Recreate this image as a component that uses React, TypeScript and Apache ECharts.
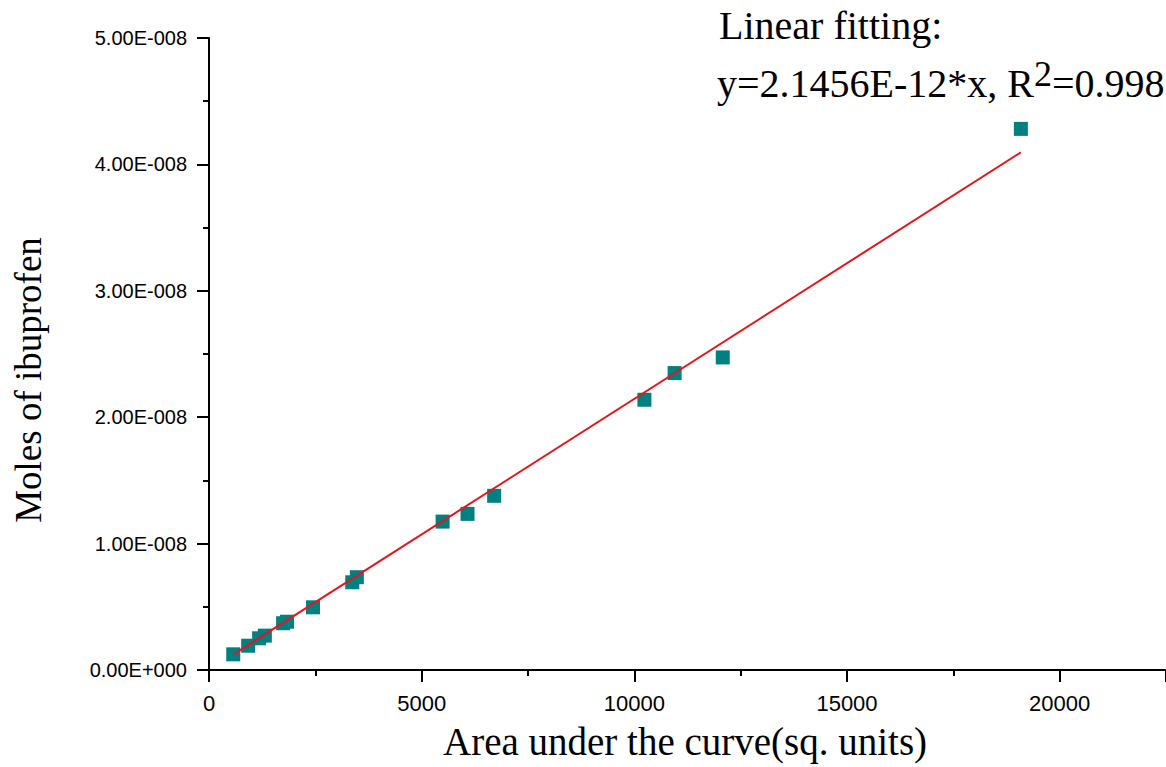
import React, { useEffect, useRef } from "react";
import * as echarts from "echarts";

const areaValues = [570, 921, 1179, 1313, 1742, 1835, 2445, 3368, 3476, 5492, 6078, 6704, 10237, 10947, 12079, 19088];
const moleValues = [1.24e-9, 1.92e-9, 2.51e-9, 2.72e-9, 3.7e-9, 3.82e-9, 4.96e-9, 6.94e-9, 7.34e-9, 1.174e-8, 1.235e-8, 1.378e-8, 2.138e-8, 2.349e-8, 2.473e-8, 4.281e-8];
const fitSlope = 2.1456e-12;
const xTitle = "Area under the curve(sq. units)";
const yTitle = "Moles of ibuprofen";
const fitTitle = "Linear fitting:";

const SERIF = '"Liberation Serif", "Times New Roman", serif';
const SANS = '"Liberation Sans", Arial, sans-serif';

function sciLabel(v: number): string {
  const [m, e] = v.toExponential(2).split("e");
  const n = parseInt(e, 10);
  return m + "E" + (n < 0 ? "-" : "+") + String(Math.abs(n)).padStart(3, "0");
}

export default function App() {
  const ref = useRef<HTMLDivElement>(null);
  useEffect(() => {
    if (!ref.current) return;
    const chart = echarts.init(ref.current, undefined, { renderer: "svg" });
    const points = areaValues.map((x, i) => [x, moleValues[i]]);
    const xMin = Math.min(...areaValues);
    const xMax = Math.max(...areaValues);
    const fitLine = [
      [xMin, fitSlope * xMin],
      [xMax, fitSlope * xMax],
    ];
    const axisCommon = {
      axisLine: { show: true, onZero: false, lineStyle: { color: "#000", width: 2 } },
      axisTick: { show: true, inside: false, length: 12, lineStyle: { color: "#000", width: 2 } },
      minorTick: { show: true, splitNumber: 2, length: 6, lineStyle: { color: "#000", width: 2 } },
      splitLine: { show: false },
      minorSplitLine: { show: false },
    };
    chart.setOption({
      animation: false,
      backgroundColor: "#fff",
      grid: { left: 209, top: 38, width: 960, height: 632 },
      xAxis: {
        type: "value",
        min: 0,
        max: 22500,
        interval: 5000,
        ...axisCommon,
        axisLabel: { show: true, showMaxLabel: false, margin: 22, fontSize: 22, color: "#000", fontFamily: SANS, formatter: (v: number) => String(v) },
      },
      yAxis: {
        type: "value",
        min: 0,
        max: 5e-8,
        interval: 1e-8,
        ...axisCommon,
        axisLabel: { show: true, margin: 22, fontSize: 20, color: "#000", fontFamily: SANS, formatter: (v: number) => sciLabel(v) },
      },
      series: [
        {
          type: "scatter",
          data: points,
          symbol: "rect",
          symbolSize: 14,
          itemStyle: { color: "#008080", opacity: 1 },
          z: 2,
        },
        {
          type: "line",
          data: fitLine,
          showSymbol: false,
          symbol: "none",
          lineStyle: { color: "#e8141b", width: 2 },
          z: 3,
        },
      ],
      graphic: [
        {
          type: "text",
          left: 719,
          top: 5,
          style: { text: fitTitle, font: `40px ${SERIF}`, fill: "#000" },
        },
        {
          type: "text",
          left: 717,
          top: 56,
          style: {
            text: "y=2.1456E-12*x, R{sup|2}=0.998",
            font: `40px ${SERIF}`,
            fill: "#000",
            rich: {
              sup: { fontSize: 36, fontFamily: SERIF, padding: [0, 0, 18, 0] },
            },
          },
        },
        {
          type: "text",
          left: 443,
          top: 722,
          style: { text: xTitle, font: `39px ${SERIF}`, fill: "#000" },
        },
        {
          type: "text",
          x: 28,
          y: 380,
          rotation: Math.PI / 2,
          style: { text: yTitle, font: `37px ${SERIF}`, fill: "#000", align: "center", verticalAlign: "middle" },
        },
      ],
    });
    return () => chart.dispose();
  }, []);
  return <div ref={ref} style={{ position: "fixed", left: 0, top: 0, width: 1166, height: 767 }} />;
}
